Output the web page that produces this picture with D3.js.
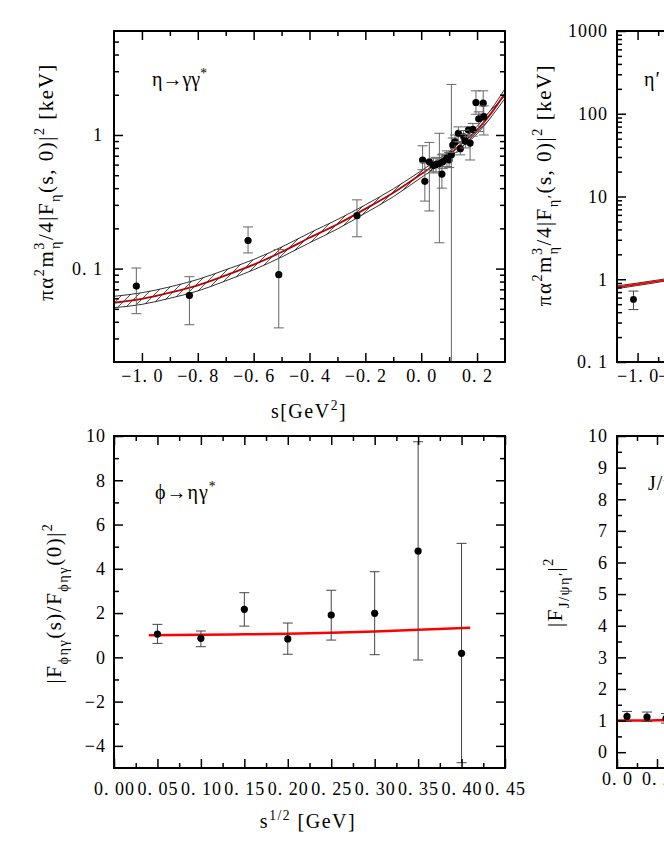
<!DOCTYPE html>
<html>
<head>
<meta charset="utf-8">
<script src="https://cdnjs.cloudflare.com/ajax/libs/d3/7.8.5/d3.min.js"></script>
<style>
  body { margin: 0; background: #fff; }
  svg text { font-family: "Liberation Serif", "Times New Roman", "DejaVu Serif", serif; fill: #000; }
</style>
</head>
<body>
<script>
// ---------- data ----------
// eta -> gamma gamma*  (top left), values in keV
const etaS  = [-1.02, -0.83, -0.62, -0.51, -0.23, 0.005, 0.013, 0.029, 0.044, 0.053, 0.065, 0.074, 0.077, 0.092, 0.100,
               0.108, 0.113, 0.121, 0.133, 0.140, 0.152, 0.158, 0.169, 0.175, 0.185, 0.196, 0.206, 0.222, 0.224];
const etaV  = [0.074, 0.063, 0.162, 0.090, 0.249, 0.65, 0.45, 0.63, 0.59, 0.60, 0.61, 0.51, 0.63, 0.67, 0.65,
               0.71, 0.84, 0.89, 1.03, 0.79, 0.97, 0.90, 1.09, 0.87, 1.10, 1.75, 1.32, 1.73, 1.37];
const etaLo = [0.046, 0.038, 0.131, 0.036, 0.173, 0.55, 0.32, 0.27, 0.52, 0.53, 0.156, 0.40, 0.56, 0.58, 0.57,
               0.01, 0.74, 0.79, 0.89, 0.71, 0.87, 0.80, 0.97, 0.65, 0.98, 1.43, 1.06, 1.43, 1.00];
const etaHi = [0.101, 0.087, 0.205, 0.139, 0.327, 0.83, 0.62, 0.88, 0.67, 0.68, 1.03, 0.71, 0.72, 0.76, 0.74,
               2.39, 0.95, 1.00, 1.15, 0.89, 1.08, 1.01, 1.15, 1.09, 1.22, 2.14, 1.49, 2.14, 1.65];
// fit curve and its error band
const etaCurveS = [-1.1, -1.0, -0.9, -0.8, -0.7, -0.6, -0.5, -0.4, -0.3, -0.2, -0.1, 0, 0.05, 0.1, 0.15, 0.2, 0.25, 0.3];
const etaCurveV = [0.0555, 0.0594, 0.066, 0.075, 0.089, 0.107, 0.133, 0.17, 0.215, 0.28, 0.37, 0.51, 0.60, 0.71, 0.88, 1.09, 1.45, 2.05];
const etaBandHi = [0.062, 0.066, 0.073, 0.083, 0.098, 0.117, 0.145, 0.185, 0.233, 0.30, 0.395, 0.54, 0.635, 0.75, 0.93, 1.16, 1.55, 2.22];
const etaBandLo = [0.051, 0.054, 0.060, 0.068, 0.081, 0.098, 0.122, 0.156, 0.198, 0.26, 0.345, 0.48, 0.565, 0.67, 0.83, 1.02, 1.36, 1.88];
const etaXTicks = [-1.0, -0.8, -0.6, -0.4, -0.2, 0.0, 0.2];
const etaXMinor = [-0.9, -0.7, -0.5, -0.3, -0.1, 0.1];
const etaYTicks = [0.1, 1];
const etaYMinor = [0.03, 0.04, 0.05, 0.06, 0.07, 0.08, 0.09, 0.2, 0.3, 0.4, 0.5, 0.6, 0.7, 0.8, 0.9, 2, 3, 4, 5];

// eta' -> gamma gamma*  (top right, only its left edge is in view)
const etapS  = [-1.02];
const etapV  = [0.57];
const etapLo = [0.43];
const etapHi = [0.72];
const etapCurveS  = [-1.1, -1.0, -0.9, -0.8, -0.7];
const etapCurveV  = [0.80, 0.87, 0.95, 1.04, 1.15];
const etapBandHi  = [0.83, 0.90, 0.98, 1.07, 1.18];
const etapBandLo  = [0.77, 0.84, 0.92, 1.01, 1.12];
const etapXTicks = [-1.0, -0.8, -0.6, -0.4, -0.2, 0.0, 0.2, 0.4, 0.6];
const etapXMinor = [-0.9, -0.7, -0.5, -0.3, -0.1, 0.1, 0.3, 0.5, 0.7];
const etapYTicks = [0.1, 1, 10, 100, 1000];
const etapYMinor = [0.2, 0.3, 0.4, 0.5, 0.6, 0.7, 0.8, 0.9, 2, 3, 4, 5, 6, 7, 8, 9,
                    20, 30, 40, 50, 60, 70, 80, 90, 200, 300, 400, 500, 600, 700, 800, 900];

// phi -> eta gamma*  (bottom left)
const phiX  = [0.05, 0.10, 0.15, 0.20, 0.25, 0.30, 0.35, 0.40];
const phiV  = [1.05, 0.86, 2.17, 0.83, 1.91, 1.99, 4.80, 0.18];
const phiLo = [0.63, 0.48, 1.41, 0.14, 0.78, 0.12, -0.12, -4.76];
const phiHi = [1.49, 1.19, 2.92, 1.55, 3.03, 3.87, 9.74, 5.15];
const phiCurveX = [0.04, 0.10, 0.15, 0.20, 0.25, 0.30, 0.35, 0.41];
const phiCurveV = [1.00, 1.02, 1.04, 1.07, 1.11, 1.17, 1.25, 1.34];
const phiXTicks = [0.00, 0.05, 0.10, 0.15, 0.20, 0.25, 0.30, 0.35, 0.40, 0.45];
const phiXMinor = [0.025, 0.075, 0.125, 0.175, 0.225, 0.275, 0.325, 0.375, 0.425];
const phiYTicks = [-4, -2, 0, 2, 4, 6, 8, 10];
const phiYMinor = [-3, -1, 1, 3, 5, 7, 9];

// J/psi -> eta' gamma*  (bottom right, only its left edge is in view)
const jpsiX  = [0.05, 0.15, 0.245];
const jpsiV  = [1.13, 1.11, 1.07];
const jpsiLo = [0.97, 0.97, 0.92];
const jpsiHi = [1.29, 1.27, 1.22];
const jpsiCurveX = [0.0, 0.1, 0.2, 0.3, 0.4];
const jpsiCurveV = [1.00, 1.00, 1.01, 1.02, 1.04];
const jpsiXTicks = [0.0, 0.2, 0.4, 0.6, 0.8, 1.0, 1.2, 1.4, 1.6, 1.8];
const jpsiXMinor = [0.1, 0.3, 0.5, 0.7, 0.9, 1.1, 1.3, 1.5, 1.7, 1.9];
const jpsiYTicks = [0, 1, 2, 3, 4, 5, 6, 7, 8, 9, 10];
const jpsiYMinor = [0.5, 1.5, 2.5, 3.5, 4.5, 5.5, 6.5, 7.5, 8.5, 9.5];

// ---------- page ----------
const W = 391;  // frame width of every panel
const svg = d3.select("body").append("svg")
  .attr("width", 664).attr("height", 860)
  .style("display", "block").style("background", "#fff");
const defs = svg.append("defs");

// hatching used inside the eta band
defs.append("pattern").attr("id", "hatch")
  .attr("patternUnits", "userSpaceOnUse").attr("width", 8).attr("height", 8)
  .append("path").attr("d", "M-2,2 L2,-2 M0,8 L8,0 M6,10 L10,6")
  .attr("stroke", "#000").attr("stroke-width", 0.7);

// "1.0" -> "1. 0", minus sign as in the figure
const fmt = p => d => d3.format("." + p + "f")(d).replace("-", "−").replace(".", ". ");
const fmtLog = d => (d < 1 ? "0. 1" : String(d));

// text with super / subscripts: parts = [text, "n" | "sup" | "sub", dx]
function rich(t, parts, size) {
  let shift = 0;
  parts.forEach(function(p) {
    const target = p[1] === "sup" ? -0.42 * size : p[1] === "sub" ? 0.32 * size : 0;
    const ts = t.append("tspan").attr("dy", target - shift).text(p[0]);
    if (p[1] !== "n") ts.attr("font-size", size * 0.68);
    if (p[2]) ts.attr("dx", p[2]);
    shift = target;
  });
}

// frame with inward ticks on all four sides
function frame(g, x, y, h, o) {
  const add = (axis) => g.append("g").call(axis);
  add(d3.axisBottom(x).tickValues(o.xMajor).tickSize(-9).tickPadding(o.xPad).tickFormat(o.fx))
    .attr("transform", `translate(0,${h})`);
  add(d3.axisBottom(x).tickValues(o.xMinor).tickSize(-5).tickFormat("")).attr("transform", `translate(0,${h})`);
  add(d3.axisTop(x).tickValues(o.xMajor).tickSize(-9).tickFormat(""));
  add(d3.axisTop(x).tickValues(o.xMinor).tickSize(-5).tickFormat(""));
  add(d3.axisLeft(y).tickValues(o.yMajor).tickSize(-9).tickPadding(o.yPad).tickFormat(o.fy));
  add(d3.axisLeft(y).tickValues(o.yMinor).tickSize(-5).tickFormat(""));
  add(d3.axisRight(y).tickValues(o.yMajor).tickSize(-9).tickFormat("")).attr("transform", `translate(${W},0)`);
  add(d3.axisRight(y).tickValues(o.yMinor).tickSize(-5).tickFormat("")).attr("transform", `translate(${W},0)`);
  g.selectAll(".domain").remove();
  g.selectAll(".tick line").attr("stroke", "#000").attr("stroke-width", 1.5);
  g.selectAll(".tick text").attr("font-size", 18).attr("letter-spacing", 1)
    .attr("font-family", null).attr("fill", "#000");
  g.append("rect").attr("width", W).attr("height", h)
    .attr("fill", "none").attr("stroke", "#000").attr("stroke-width", 2);
}

// data points with capped error bars
function points(g, x, y, xs, vs, lo, hi, r, col) {
  const pts = g.append("g").selectAll("g").data(d3.range(xs.length)).enter().append("g");
  pts.append("line").attr("x1", i => x(xs[i])).attr("x2", i => x(xs[i]))
    .attr("y1", i => y(lo[i])).attr("y2", i => y(hi[i]))
    .attr("stroke", col).attr("stroke-width", 1);
  [lo, hi].forEach(function(arr) {
    pts.append("line").attr("x1", i => x(xs[i]) - 5).attr("x2", i => x(xs[i]) + 5)
      .attr("y1", i => y(arr[i])).attr("y2", i => y(arr[i]))
      .attr("stroke", col).attr("stroke-width", 1);
  });
  pts.append("circle").attr("cx", i => x(xs[i])).attr("cy", i => y(vs[i])).attr("r", r).attr("fill", "#000");
}

function clipped(g, id, h) {
  defs.append("clipPath").attr("id", id).append("rect").attr("width", W).attr("height", h);
  return g.append("g").attr("clip-path", `url(#${id})`);
}

function band(g, x, y, xs, hi, lo, mid, redCol, hatch) {
  const idx = d3.range(xs.length);
  const area = d3.area().x(i => x(xs[i])).y0(i => y(lo[i])).y1(i => y(hi[i])).curve(d3.curveMonotoneX);
  if (hatch) g.append("path").datum(idx).attr("d", area).attr("fill", "url(#hatch)");
  [hi, lo].forEach(function(arr) {
    g.append("path").datum(idx)
      .attr("d", d3.line().x(i => x(xs[i])).y(i => y(arr[i])).curve(d3.curveMonotoneX))
      .attr("fill", "none").attr("stroke", "#000").attr("stroke-width", 0.8);
  });
  g.append("path").datum(idx)
    .attr("d", d3.line().x(i => x(xs[i])).y(i => y(mid[i])).curve(d3.curveMonotoneX))
    .attr("fill", "none").attr("stroke", redCol).attr("stroke-width", 1.8);
}

function redLine(g, x, y, xs, vs) {
  g.append("path").datum(d3.range(xs.length))
    .attr("d", d3.line().x(i => x(xs[i])).y(i => y(vs[i])).curve(d3.curveMonotoneX))
    .attr("fill", "none").attr("stroke", "#ff0000").attr("stroke-width", 2.5);
}

// ---------- top left: eta ----------
{
  const h = 331;
  const g = svg.append("g").attr("transform", "translate(114,31)");
  const x = d3.scaleLinear().domain([-1.1, 0.3]).range([0, W]);
  const y = d3.scaleLog().domain([0.02, 6]).range([h, 0]);
  const c = clipped(g, "clipEta", h);
  band(c, x, y, etaCurveS, etaBandHi, etaBandLo, etaCurveV, "#b80000", true);
  points(c, x, y, etaS, etaV, etaLo, etaHi, 3.6, "#666");
  frame(g, x, y, h, {xMajor: etaXTicks, xMinor: etaXMinor, xPad: 7, fx: fmt(1),
                     yMajor: etaYTicks, yMinor: etaYMinor, yPad: 11, fy: fmtLog});
  const a = g.append("text").attr("x", 38).attr("y", 55).attr("font-size", 20);
  rich(a, [["η→γγ", "n"], ["*", "sup"]], 20);
}
// axis titles, top left
{
  const t = svg.append("text").attr("x", 309).attr("y", 418).attr("text-anchor", "middle")
    .attr("font-size", 20).attr("letter-spacing", 1.5);
  rich(t, [["s[GeV", "n"], ["2", "sup"], ["]", "n"]], 20);
  const yl = svg.append("text").attr("transform", "translate(53,182) rotate(-90)")
    .attr("text-anchor", "middle").attr("font-size", 21).attr("letter-spacing", 1.5);
  rich(yl, [["πα", "n"], ["2", "sup"], ["m", "n"], ["3", "sup"], ["η", "sub", -8], ["/4|F", "n"], ["η", "sub"],
            ["(s, 0)|", "n"], ["2", "sup"], ["  [keV]", "n"]], 21);
}

// ---------- top right: eta' ----------
{
  const h = 331;
  const g = svg.append("g").attr("transform", "translate(617,31)");
  const x = d3.scaleLinear().domain([-1.1, 0.8]).range([0, W]);
  const y = d3.scaleLog().domain([0.1, 1000]).range([h, 0]);
  const c = clipped(g, "clipEtap", h);
  band(c, x, y, etapCurveS, etapBandHi, etapBandLo, etapCurveV, "#ff0000", false);
  points(c, x, y, etapS, etapV, etapLo, etapHi, 3.4, "#444");
  frame(g, x, y, h, {xMajor: etapXTicks, xMinor: etapXMinor, xPad: 7, fx: fmt(1),
                     yMajor: etapYTicks, yMinor: etapYMinor, yPad: 9, fy: fmtLog});
  const a = g.append("text").attr("x", 27).attr("y", 55).attr("font-size", 20).attr("letter-spacing", 1);
  rich(a, [["η′→γγ", "n"], ["*", "sup"]], 20);
  const yl = svg.append("text").attr("transform", "translate(551,185) rotate(-90)")
    .attr("text-anchor", "middle").attr("font-size", 21).attr("letter-spacing", 1.5);
  rich(yl, [["πα", "n"], ["2", "sup"], ["m", "n"], ["3", "sup"], ["η", "sub", -8], ["/4|F", "n"], ["η′", "sub"],
            ["(s, 0)|", "n"], ["2", "sup"], ["  [keV]", "n"]], 21);
}

// ---------- bottom left: phi ----------
{
  const h = 332;
  const g = svg.append("g").attr("transform", "translate(114,436)");
  const x = d3.scaleLinear().domain([0, 0.45]).range([0, W]);
  const y = d3.scaleLinear().domain([-5, 10]).range([h, 0]);
  const c = clipped(g, "clipPhi", h);
  redLine(c, x, y, phiCurveX, phiCurveV);
  points(c, x, y, phiX, phiV, phiLo, phiHi, 3.6, "#444");
  frame(g, x, y, h, {xMajor: phiXTicks, xMinor: phiXMinor, xPad: 14, fx: fmt(2),
                     yMajor: phiYTicks, yMinor: phiYMinor, yPad: 8, fy: d => String(d).replace("-", "−")});
  const a = g.append("text").attr("x", 41).attr("y", 63).attr("font-size", 20).attr("letter-spacing", 1);
  rich(a, [["ϕ→ηγ", "n"], ["*", "sup"]], 20);
  const t = svg.append("text").attr("x", 308).attr("y", 828).attr("text-anchor", "middle")
    .attr("font-size", 20).attr("letter-spacing", 1.5);
  rich(t, [["s", "n"], ["1/2", "sup"], ["  [GeV]", "n"]], 20);
  const yl = svg.append("text").attr("transform", "translate(61,603) rotate(-90)")
    .attr("text-anchor", "middle").attr("font-size", 21).attr("letter-spacing", 1.5);
  rich(yl, [["|F", "n"], ["ϕηγ", "sub"], ["(s)/F", "n"], ["ϕηγ", "sub"], ["(0)|", "n"], ["2", "sup"]], 21);
}

// ---------- bottom right: J/psi ----------
{
  const h = 332;
  const g = svg.append("g").attr("transform", "translate(617,436)");
  const x = d3.scaleLinear().domain([0, 1.955]).range([0, W]);
  const y = d3.scaleLinear().domain([-0.5, 10]).range([h, 0]);
  const c = clipped(g, "clipJpsi", h);
  redLine(c, x, y, jpsiCurveX, jpsiCurveV);
  points(c, x, y, jpsiX, jpsiV, jpsiLo, jpsiHi, 3.6, "#444");
  frame(g, x, y, h, {xMajor: jpsiXTicks, xMinor: jpsiXMinor, xPad: 4, fx: fmt(1),
                     yMajor: jpsiYTicks, yMinor: jpsiYMinor, yPad: 9, fy: d => String(d)});
  const a = g.append("text").attr("x", 31).attr("y", 54).attr("font-size", 20).attr("letter-spacing", 1);
  rich(a, [["J/ψ→η′γ", "n"], ["*", "sup"]], 20);
  const yl = svg.append("text").attr("transform", "translate(562,592) rotate(-90)")
    .attr("text-anchor", "middle").attr("font-size", 21).attr("letter-spacing", 1.5);
  rich(yl, [["|F", "n"], ["J/ψη′", "sub"], ["|", "n"], ["2", "sup"]], 21);
}
</script>
</body>
</html>
